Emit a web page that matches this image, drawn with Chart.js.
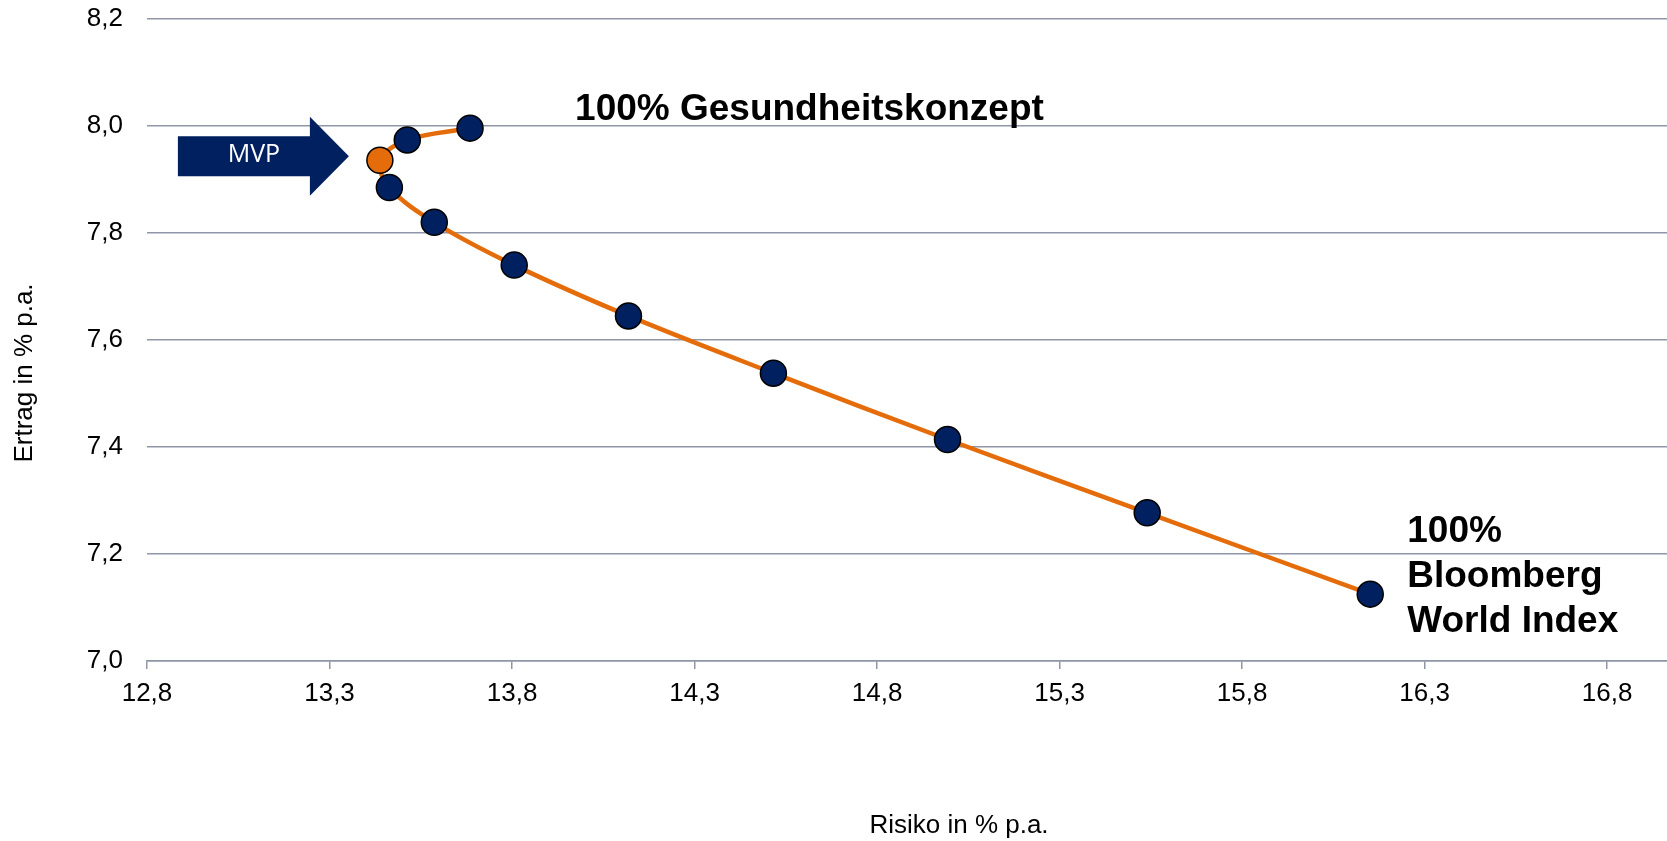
<!DOCTYPE html>
<html lang="de">
<head>
<meta charset="utf-8">
<title>Risiko / Ertrag</title>
<script src="https://cdn.jsdelivr.net/npm/chart.js@4.4.1/dist/chart.umd.min.js"></script>
<style>
  html, body { margin: 0; padding: 0; background: #fff; overflow: hidden; }
  #wrap { position: relative; width: 1667px; height: 841px; }
  #chart { display: block; }
</style>
</head>
<body>
<div id="wrap"><canvas id="chart"></canvas></div>
<script>
// Portfolios von 100% Gesundheitskonzept bis 100% Bloomberg World Index
const risiko = [13.685, 13.513, 13.438, 13.464, 13.587, 13.806, 14.119, 14.516, 14.993, 15.540, 16.151];
const ertrag = [7.996, 7.974, 7.936, 7.885, 7.820, 7.740, 7.645, 7.538, 7.414, 7.277, 7.125];
const mvpIndex = 2;

const xTicks = [12.8, 13.3, 13.8, 14.3, 14.8, 15.3, 15.8, 16.3, 16.8];
const yTicks = [7.0, 7.2, 7.4, 7.6, 7.8, 8.0, 8.2];

const labelStart = '100% Gesundheitskonzept';
const labelEnd = ['100%', 'Bloomberg', 'World Index'];
const labelMvp = 'MVP';
const titleX = 'Risiko in % p.a.';
const titleY = 'Ertrag in % p.a.';

const NAVY = '#002060';
const ORANGE = '#E46C0A';
const GRID = '#8F96A8';
const FONT = '"Liberation Sans", Arial, sans-serif';

const fmt = v => Number(v).toFixed(1).replace('.', ',');

// Pfeil, Beschriftungen und Achsentitel
const annotations = {
  id: 'annotations',
  afterDraw(chart) {
    const { ctx } = chart;
    const pts = chart.getDatasetMeta(0).data;
    const mvp = pts[mvpIndex];
    const first = pts[0];
    const last = pts[pts.length - 1];

    ctx.save();

    // MVP-Pfeil, links vom MVP-Punkt
    const tipX = mvp.x - 31;
    const midY = mvp.y - 4;
    ctx.fillStyle = NAVY;
    ctx.beginPath();
    ctx.moveTo(tipX - 171, midY - 20);
    ctx.lineTo(tipX - 39, midY - 20);
    ctx.lineTo(tipX - 39, midY - 39.5);
    ctx.lineTo(tipX, midY);
    ctx.lineTo(tipX - 39, midY + 39.5);
    ctx.lineTo(tipX - 39, midY + 20);
    ctx.lineTo(tipX - 171, midY + 20);
    ctx.closePath();
    ctx.fill();

    ctx.fillStyle = '#fff';
    ctx.font = '25px "Open Sans", sans-serif';
    ctx.textAlign = 'center';
    ctx.textBaseline = 'alphabetic';
    ctx.fillText(labelMvp, tipX - 95, midY + 6);

    // Endpunkte
    ctx.fillStyle = '#000';
    ctx.font = 'bold 37px ' + FONT;
    ctx.textAlign = 'left';
    ctx.fillText(labelStart, first.x + 105, first.y - 8);
    labelEnd.forEach((t, i) => ctx.fillText(t, last.x + 37, last.y - 52 + i * 45));

    // Achsentitel
    ctx.font = '26px ' + FONT;
    ctx.textAlign = 'center';
    ctx.textBaseline = 'middle';
    ctx.fillText(titleX, 959, 826);
    ctx.translate(25, 373);
    ctx.rotate(-Math.PI / 2);
    ctx.fillText(titleY, 0, 0);

    ctx.restore();
  }
};

new Chart(document.getElementById('chart'), {
  type: 'scatter',
  data: {
    datasets: [{
      data: risiko.map((x, i) => ({ x, y: ertrag[i] })),
      showLine: true,
      borderColor: ORANGE,
      borderWidth: 4.5,
      tension: 0.35,
      fill: false,
      pointRadius: 13,
      pointHoverRadius: 13,
      pointBorderWidth: 1.5,
      pointBorderColor: '#000',
      pointBackgroundColor: c => c.dataIndex === mvpIndex ? ORANGE : NAVY,
    }]
  },
  options: {
    responsive: true,
    maintainAspectRatio: false,
    animation: false,
    layout: { autoPadding: false, padding: { top: 19, right: 0, bottom: 0, left: 0 } },
    plugins: {
      legend: { display: false },
      tooltip: { enabled: false },
    },
    scales: {
      x: {
        type: 'linear',
        min: 12.8,
        max: 16.964,
        afterBuildTicks: s => { s.ticks = xTicks.map(v => ({ value: v })); },
        afterFit: s => { s.height = 180; s.paddingLeft = 0; s.paddingRight = 0; },
        grid: { drawOnChartArea: false, drawTicks: true, tickLength: 8, color: GRID, lineWidth: 1.5 },
        border: { display: true, color: GRID, width: 1.5 },
        ticks: {
          color: '#000', font: { family: FONT, size: 26 }, padding: 9,
          maxRotation: 0, autoSkip: false, callback: v => fmt(v),
        },
      },
      y: {
        type: 'linear',
        min: 7.0,
        max: 8.2,
        afterBuildTicks: s => { s.ticks = yTicks.map(v => ({ value: v })); },
        afterFit: s => { s.width = 147; s.paddingTop = 0; s.paddingBottom = 0; },
        grid: { drawTicks: false, color: GRID, lineWidth: 1.5 },
        border: { display: false },
        ticks: {
          color: '#000', font: { family: FONT, size: 26 }, padding: 24,
          autoSkip: false, callback: v => fmt(v),
        },
      },
    },
  },
  plugins: [annotations],
});
</script>
</body>
</html>
